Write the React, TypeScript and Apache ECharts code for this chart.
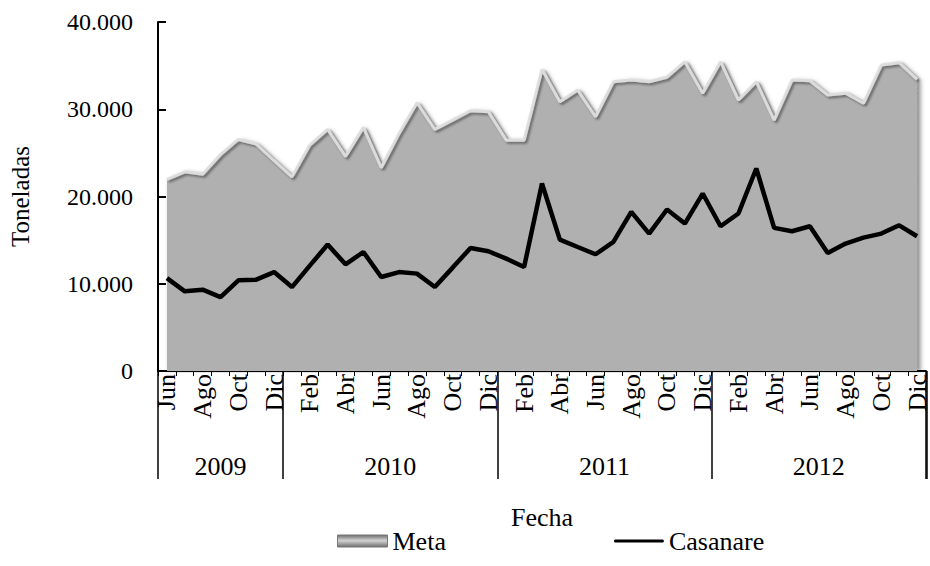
import React, { useEffect, useRef } from 'react';
import * as echarts from 'echarts';

const monthNames = ['Ene', 'Feb', 'Mar', 'Abr', 'May', 'Jun', 'Jul', 'Ago', 'Sep', 'Oct', 'Nov', 'Dic'];
const years = [2009, 2010, 2011, 2012];
const firstMonthOfFirstYear = 5; // Jun 2009

const metaValues = [
  21950, 22830, 22560, 24800, 26540, 26000, 24100,
  22250, 25900, 27690, 24600, 27920, 23300, 27230, 30750, 27700, 28760, 29830, 29710,
  26460, 26460, 34580, 30860, 32200, 29140, 33160, 33350, 33160, 33670, 35450, 31830,
  35450, 31060, 33160, 28760, 33350, 33270, 31630, 31830, 30680, 35070, 35340, 33430,
];

const casanareValues = [
  10650, 9130, 9320, 8470, 10390, 10470, 11340,
  9620, 12080, 14490, 12230, 13640, 10770, 11340, 11160, 9620, 11850, 14100, 13720,
  12880, 11920, 21490, 15060, 14210, 13380, 14790, 18240, 15750, 18510, 16900, 20340,
  16590, 18050, 23210, 16400, 16020, 16590, 13530, 14600, 15290, 15750, 16700, 15440,
];

const yTicks = [0, 10000, 20000, 30000, 40000];

// build categories
const categories: string[] = [];
const monthOf: string[] = [];
const yearStartIdx: number[] = [];
const yearLabelIdx: Record<number, { year: number; shift: boolean }> = {};
years.forEach((y, yi) => {
  const start = yi === 0 ? firstMonthOfFirstYear : 0;
  const startIdx = categories.length;
  yearStartIdx.push(startIdx);
  for (let m = start; m < 12; m++) {
    categories.push(`${monthNames[m]} ${y}`);
    monthOf.push(monthNames[m]);
  }
  const count = 12 - start;
  const mid = startIdx + Math.floor((count - 1) / 2);
  yearLabelIdx[mid] = { year: y, shift: count % 2 === 0 };
});

const FONT = '"Liberation Serif", "Times New Roman", serif';
const FS = 26;
const YEAR_OFFSET = 108;
const GRID = { left: 157, right: 3, top: 22, bottom: 195 };

export default function App() {
  const ref = useRef<HTMLDivElement>(null);
  useEffect(() => {
    if (!ref.current) return;
    const chart = echarts.init(ref.current, null, { renderer: 'svg' });
    const metaIconFill = new echarts.graphic.LinearGradient(0, 0, 0, 1, [
      { offset: 0, color: '#6e6e6e' },
      { offset: 0.45, color: '#d0d0d0' },
      { offset: 0.55, color: '#c4c4c4' },
      { offset: 1, color: '#6e6e6e' },
    ]);
    chart.setOption({
      animation: false,
      backgroundColor: '#ffffff',
      textStyle: { fontFamily: FONT, color: '#000' },
      grid: { ...GRID, containLabel: false },
      graphic: [
        {
          // closing separator of the year axis at the plot's right edge
          type: 'rect',
          right: GRID.right - 0.75,
          bottom: GRID.bottom - YEAR_OFFSET,
          shape: { width: 1.5, height: YEAR_OFFSET },
          style: { fill: '#000' },
          silent: true,
          z: 10,
        },
      ],
      legend: {
        left: 332,
        bottom: 7,
        itemGap: 168,
        itemWidth: 50,
        itemHeight: 12,
        textStyle: { fontFamily: FONT, fontSize: FS, color: '#000' },
        data: [
          { name: 'Meta', icon: 'rect', itemStyle: { color: metaIconFill, borderColor: '#777', borderWidth: 1 } },
          {
            name: 'Casanare',
            icon: 'path://M3,0 L97,0 A3,3 0 0 1 97,6 L3,6 A3,3 0 0 1 3,0 Z',
            itemStyle: { color: '#000' },
          },
        ],
      },
      xAxis: [
        {
          type: 'category',
          data: categories,
          boundaryGap: true,
          position: 'bottom',
          axisLine: { show: true, lineStyle: { color: '#000', width: 2 } },
          axisTick: { show: true, interval: 0, length: 5, lineStyle: { color: '#000', width: 1 } },
          axisLabel: {
            interval: 1,
            rotate: 90,
            margin: 3,
            fontFamily: FONT,
            fontSize: FS,
            lineHeight: 18,
            color: '#000',
            formatter: (_v: string, i: number) => monthOf[i],
          },
        },
        {
          type: 'category',
          data: categories,
          boundaryGap: true,
          position: 'bottom',
          offset: YEAR_OFFSET,
          axisLine: { show: false },
          axisTick: {
            show: true,
            inside: true,
            length: YEAR_OFFSET,
            interval: (i: number) => yearStartIdx.includes(i),
            lineStyle: { color: '#000', width: 1.5 },
          },
          axisLabel: {
            inside: true,
            margin: 0,
            interval: (i: number) => yearLabelIdx[i] !== undefined,
            formatter: (_v: string, i: number) => {
              const e = yearLabelIdx[i];
              if (!e) return '';
              return e.shift ? `{s|${e.year}}` : `{c|${e.year}}`;
            },
            rich: {
              s: { fontFamily: FONT, fontSize: FS, color: '#000', padding: [0, 0, 0, 18] },
              c: { fontFamily: FONT, fontSize: FS, color: '#000' },
            },
          },
          name: 'Fecha',
          nameLocation: 'middle',
          nameGap: 25,
          nameTextStyle: { fontFamily: FONT, fontSize: FS, color: '#000' },
        },
      ],
      yAxis: {
        type: 'value',
        min: yTicks[0],
        max: yTicks[yTicks.length - 1],
        interval: 10000,
        splitLine: { show: false },
        axisLine: { show: true, lineStyle: { color: '#000', width: 2 } },
        axisTick: { show: true, inside: true, length: 8, lineStyle: { color: '#000', width: 2 } },
        axisLabel: {
          margin: 25,
          fontFamily: FONT,
          fontSize: 24,
          color: '#000',
          formatter: (v: number) => (v === 0 ? '0' : `${v / 1000}.000`),
        },
        name: 'Toneladas',
        nameLocation: 'middle',
        nameGap: 125,
        nameTextStyle: { fontFamily: FONT, fontSize: 25, color: '#000' },
      },
      series: [
        {
          name: 'Meta',
          type: 'line',
          data: metaValues,
          symbol: 'none',
          z: 1,
          lineStyle: {
            color: 'rgba(222,222,222,0.95)',
            width: 3,
            shadowColor: 'rgba(50,50,50,0.6)',
            shadowBlur: 2,
            shadowOffsetX: 2,
            shadowOffsetY: 2,
          },
          itemStyle: { color: '#9a9a9a' },
          areaStyle: {
            color: '#b0b0b0',
            opacity: 1,
            shadowColor: 'rgba(0,0,0,0.5)',
            shadowBlur: 5,
            shadowOffsetX: 3,
            shadowOffsetY: 1,
          },
        },
        {
          name: 'Casanare',
          type: 'line',
          data: casanareValues,
          symbol: 'none',
          z: 3,
          lineStyle: { color: '#000', width: 4.5 },
          itemStyle: { color: '#000' },
        },
      ],
    });
    return () => chart.dispose();
  }, []);
  return <div ref={ref} style={{ position: 'fixed', left: 0, top: 0, width: 930, height: 566 }} />;
}
